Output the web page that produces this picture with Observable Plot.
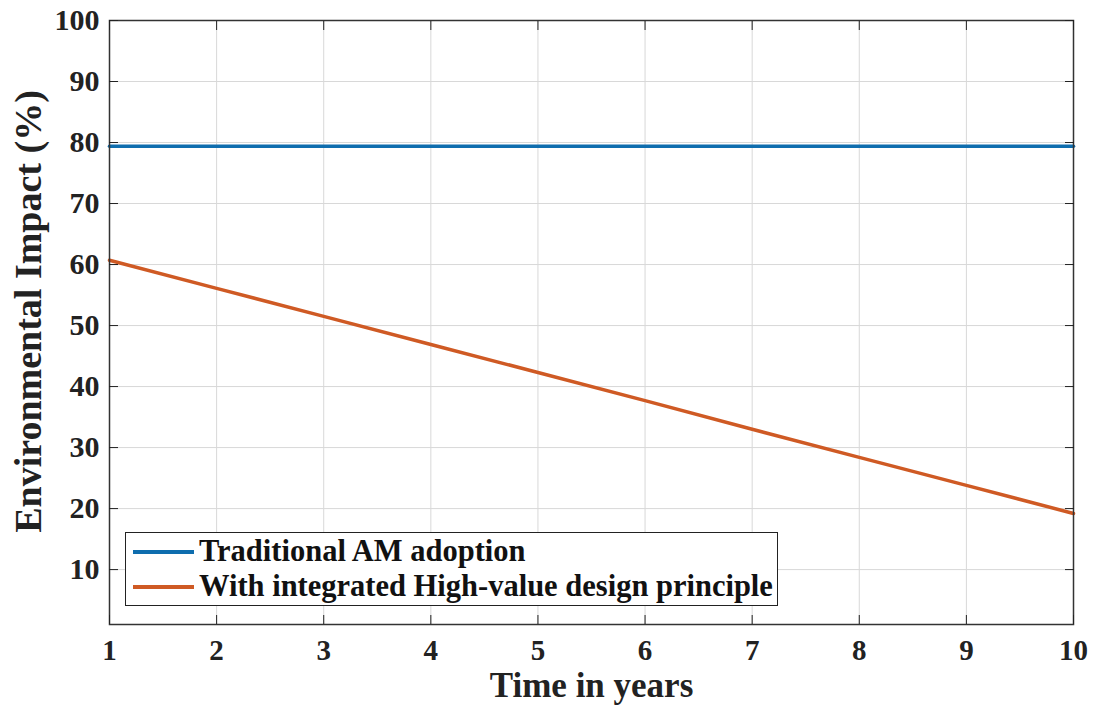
<!DOCTYPE html>
<html>
<head>
<meta charset="utf-8">
<script src="https://cdn.jsdelivr.net/npm/d3@7"></script>
<script src="https://cdn.jsdelivr.net/npm/@observablehq/plot@0.6"></script>
<style>
  html, body { margin: 0; padding: 0; background: #fff; }
  #wrap { position: relative; width: 1096px; height: 712px; }
  #legend {
    position: absolute; left: 125px; top: 532px; width: 653px; height: 74px;
    border: 1.5px solid #222; background: #fff; box-sizing: border-box;
    font-family: "Liberation Serif", "Times New Roman", serif; font-weight: bold;
    font-size: 30.5px; color: #111; padding-top: 1px;
  }
  .row { display: flex; align-items: center; height: 35px; white-space: nowrap; }
  .sw { width: 61px; height: 4px; margin-left: 7px; margin-right: 5px; }
</style>
</head>
<body>
<div id="wrap"></div>
<script>
const years = [1, 2, 3, 4, 5, 6, 7, 8, 9, 10];
const traditional = [79.4, 79.4, 79.4, 79.4, 79.4, 79.4, 79.4, 79.4, 79.4, 79.4];
const highValue = [60.7, 56.1, 51.5, 46.9, 42.3, 37.7, 33.0, 28.4, 23.8, 19.2];
const seriesNames = ["Traditional AM adoption", "With integrated High-value design principle"];
const seriesColors = ["#0E6DAE", "#CF5A24"];
const xTicks = [1, 2, 3, 4, 5, 6, 7, 8, 9, 10];
const yTicks = [10, 20, 30, 40, 50, 60, 70, 80, 90, 100];

const rows = [];
years.forEach((y, i) => {
  rows.push({year: y, value: traditional[i], series: seriesNames[0]});
  rows.push({year: y, value: highValue[i], series: seriesNames[1]});
});

const font = "'Liberation Serif', 'Times New Roman', serif";
const empty = () => "";

const chart = Plot.plot({
  width: 1096,
  height: 712,
  marginLeft: 109,
  marginRight: 23,
  marginTop: 20,
  marginBottom: 88,
  style: {fontFamily: font, background: "#fff"},
  x: {domain: [1, 10], label: null},
  y: {domain: [1, 100], label: null},
  color: {domain: seriesNames, range: seriesColors},
  marks: [
    Plot.gridX(xTicks, {stroke: "#d8d8d8", strokeOpacity: 1, strokeWidth: 1}),
    Plot.gridY(yTicks, {stroke: "#d8d8d8", strokeOpacity: 1, strokeWidth: 1}),
    Plot.line(rows, {x: "year", y: "value", stroke: "series", z: "series", strokeWidth: 3.5}),
    Plot.frame({stroke: "#333", strokeWidth: 1.5}),
    Plot.axisX(xTicks, {anchor: "bottom", tickSize: 0, tickPadding: 15, fontSize: 29, fontWeight: "bold", fill: "#222", label: null}),
    Plot.axisY(yTicks, {anchor: "left", tickSize: 0, tickPadding: 10, fontSize: 30, fontWeight: "bold", fill: "#222", label: null}),
    Plot.axisX(xTicks, {anchor: "bottom", tickSize: -9, tickFormat: empty, stroke: "#222", label: null}),
    Plot.axisX(xTicks, {anchor: "top", tickSize: -9, tickFormat: empty, stroke: "#222", label: null}),
    Plot.axisY(yTicks, {anchor: "left", tickSize: -9, tickFormat: empty, stroke: "#222", label: null}),
    Plot.axisY(yTicks, {anchor: "right", tickSize: -9, tickFormat: empty, stroke: "#222", label: null}),
    Plot.text(["Time in years"], {frameAnchor: "bottom", dy: 72, fontSize: 35, fontWeight: "bold", fill: "#222"}),
    Plot.text(["Environmental Impact (%)"], {frameAnchor: "left", textAnchor: "middle", dx: -81, dy: -11, rotate: -90, fontSize: 38, fontWeight: "bold", fill: "#222"})
  ]
});

const wrap = document.getElementById("wrap");
wrap.appendChild(chart);

const legend = document.createElement("div");
legend.id = "legend";
seriesNames.forEach((name, i) => {
  const row = document.createElement("div");
  row.className = "row";
  const sw = document.createElement("div");
  sw.className = "sw";
  sw.style.background = seriesColors[i];
  const label = document.createElement("span");
  label.textContent = name;
  row.appendChild(sw);
  row.appendChild(label);
  legend.appendChild(row);
});
wrap.appendChild(legend);
</script>
</body>
</html>
